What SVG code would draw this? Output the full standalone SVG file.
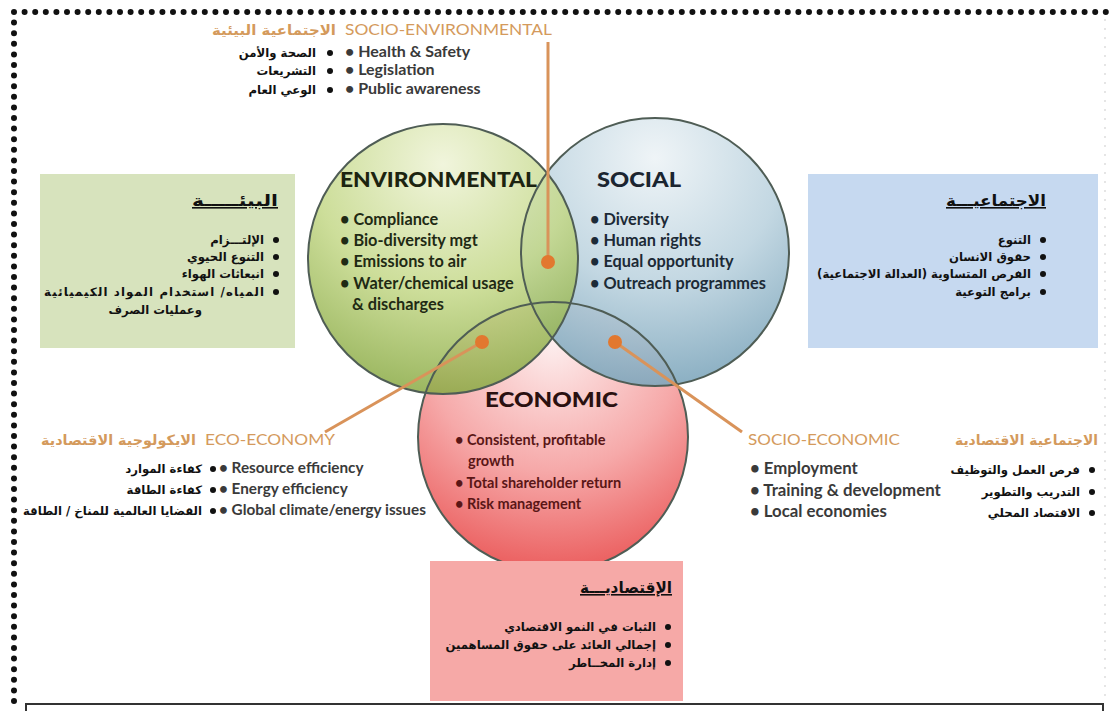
<svg xmlns="http://www.w3.org/2000/svg" width="1110" height="711" viewBox="0 0 1110 711">
<style>
.en{font-family:Lato,"Open Sans","Liberation Sans",sans-serif;font-weight:700;font-size:16.3px}
.enr{font-family:Lato,"Open Sans","Liberation Sans",sans-serif;font-weight:700;font-size:14.5px}
.ttl{font-family:Lato,"Open Sans","Liberation Sans",sans-serif;font-weight:900;font-size:21px}
.or{font-family:Lato,"Open Sans","Liberation Sans",sans-serif;font-weight:400;font-size:15px;fill:#d49a5c}
.ob{font-family:Lato,"Open Sans","Liberation Sans",sans-serif;font-weight:700;font-size:16px;fill:#3a3a3a}
.ar{font-family:"DejaVu Sans","Noto Sans",sans-serif;font-weight:700;font-size:11.7px;fill:#111;direction:rtl}
.art{font-family:"DejaVu Sans","Noto Sans",sans-serif;font-weight:700;font-size:16px;fill:#111;direction:rtl;text-decoration:underline}
.aro{font-family:"DejaVu Sans","Noto Sans",sans-serif;font-weight:700;font-size:14px;fill:#d49a5c;direction:rtl}
.ring{fill:none;stroke:#4f5d55;stroke-width:2}
.con{stroke:#d9935a;stroke-width:3;fill:none}
.dot{fill:#e2782f}
.bul{fill:#111}
</style>
<defs>
<radialGradient id="gEnv" cx="50%" cy="15%" r="95%">
<stop offset="0" stop-color="#eef3d6"/><stop offset="0.5" stop-color="#c4d888"/><stop offset="1" stop-color="#7a9e32"/>
</radialGradient>
<radialGradient id="gSoc" cx="50%" cy="15%" r="95%">
<stop offset="0" stop-color="#edf3f6"/><stop offset="0.5" stop-color="#bcd3df"/><stop offset="1" stop-color="#6e9bb3"/>
</radialGradient>
<radialGradient id="gEco" cx="50%" cy="15%" r="95%">
<stop offset="0" stop-color="#fdeeee"/><stop offset="0.5" stop-color="#f6a9a9"/><stop offset="1" stop-color="#e84a4a"/>
</radialGradient>
</defs>
<rect width="1110" height="711" fill="#fff"/>
<g id="border">
<path d="M14 12 H1108 M14 12 V711" stroke="#111" stroke-width="6" stroke-linecap="round" stroke-dasharray="0 10.6" fill="none"/>
<path d="M1105 20 V700" stroke="#ddd" stroke-width="2" stroke-linecap="round" stroke-dasharray="0 9" fill="none"/>
</g>
<g id="circles">
<circle cx="553" cy="437" r="135" fill="url(#gEco)"/>
<circle cx="655" cy="252" r="134" fill="url(#gSoc)" opacity="0.9"/>
<circle cx="443" cy="259" r="135" fill="url(#gEnv)" opacity="0.85"/>
<circle class="ring" cx="553" cy="437" r="135"/>
<circle class="ring" cx="655" cy="252" r="134"/>
<circle class="ring" cx="443" cy="259" r="135"/>
</g>
<g id="box-env">
<rect x="40" y="174" width="255" height="174" fill="#d7e3bd"/>
<text class="art" x="278" y="206" textLength="86" lengthAdjust="spacingAndGlyphs">البيئـــــة</text>
<circle class="bul" cx="276" cy="240" r="3"/><text class="ar" x="264" y="244">الإلتـــزام</text>
<circle class="bul" cx="276" cy="257" r="3"/><text class="ar" x="264" y="261">التنوع الحيوي</text>
<circle class="bul" cx="276" cy="274" r="3"/><text class="ar" x="264" y="278">انبعاثات الهواء</text>
<circle class="bul" cx="276" cy="292" r="3"/><text class="ar" x="264" y="296" textLength="220" lengthAdjust="spacing">المياه/ استخدام المواد الكيميائية</text>
<text class="ar" x="202" y="314">وعمليات الصرف</text>
</g>
<g id="box-soc">
<rect x="808" y="174" width="290" height="174" fill="#c6d9f0"/>
<text class="art" x="1046" y="206" textLength="100" lengthAdjust="spacingAndGlyphs">الاجتماعيـــة</text>
<circle class="bul" cx="1043" cy="240" r="3"/><text class="ar" x="1031" y="244">التنوع</text>
<circle class="bul" cx="1043" cy="257" r="3"/><text class="ar" x="1031" y="261">حقوق الانسان</text>
<circle class="bul" cx="1043" cy="274" r="3"/><text class="ar" x="1031" y="278">الفرص المتساوية (العدالة الاجتماعية)</text>
<circle class="bul" cx="1043" cy="292" r="3"/><text class="ar" x="1031" y="296">برامج التوعية</text>
</g>
<g id="box-eco">
<rect x="430" y="561" width="253" height="140" fill="#f6a9a7"/>
<text class="art" x="672" y="593" textLength="92" lengthAdjust="spacingAndGlyphs">الإقتصاديـــة</text>
<circle class="bul" cx="668" cy="627" r="3"/><text class="ar" x="656" y="631">الثبات في النمو الاقتصادي</text>
<circle class="bul" cx="668" cy="645" r="3"/><text class="ar" x="656" y="649">إجمالي العائد على حقوق المساهمين</text>
<circle class="bul" cx="668" cy="663" r="3"/><text class="ar" x="656" y="667">إدارة المخــاطر</text>
</g>
<g id="connectors">
<line class="con" x1="548" y1="42" x2="548" y2="262"/>
<line class="con" x1="325" y1="432" x2="482" y2="342"/>
<line class="con" x1="742" y1="432" x2="615" y2="342"/>
<circle class="dot" cx="548" cy="262" r="7"/>
<circle class="dot" cx="482" cy="342" r="7"/>
<circle class="dot" cx="615" cy="342" r="7"/>
</g>
<g id="env">
<text class="ttl" x="340" y="187" fill="#1c2410" textLength="197" lengthAdjust="spacingAndGlyphs">ENVIRONMENTAL</text>
<g class="en" fill="#1f2a14">
<text x="340" y="225">•  Compliance</text>
<text x="340" y="246">•  Bio-diversity mgt</text>
<text x="340" y="267">•  Emissions to air</text>
<text x="340" y="289">•  Water/chemical usage</text>
<text x="352" y="310">&amp; discharges</text>
</g>
</g>
<g id="soc">
<text class="ttl" x="597" y="187" fill="#1b2530" textLength="84" lengthAdjust="spacingAndGlyphs">SOCIAL</text>
<g class="en" fill="#1c2a36">
<text x="590" y="225">•  Diversity</text>
<text x="590" y="246">•  Human rights</text>
<text x="590" y="267">•  Equal opportunity</text>
<text x="590" y="289">•  Outreach programmes</text>
</g>
</g>
<g id="eco">
<text class="ttl" x="485" y="407" fill="#2a1010" textLength="133" lengthAdjust="spacingAndGlyphs">ECONOMIC</text>
<g class="enr" fill="#5a1616">
<text x="455" y="445">•  Consistent, profitable</text>
<text x="468" y="466">growth</text>
<text x="455" y="488">•  Total shareholder return</text>
<text x="455" y="509">•  Risk management</text>
</g>
</g>
<g id="socio-env">
<text class="or" x="345" y="35" textLength="207" lengthAdjust="spacingAndGlyphs">SOCIO-ENVIRONMENTAL</text>
<text class="aro" x="336" y="35" textLength="124" lengthAdjust="spacingAndGlyphs">الاجتماعية البيئية</text>
<g class="ob">
<text x="345" y="57">•  Health &amp; Safety</text>
<text x="345" y="75">•  Legislation</text>
<text x="345" y="94">•  Public awareness</text>
</g>
<circle class="bul" cx="330" cy="53" r="3"/><text class="ar" x="316" y="57">الصحة والأمن</text>
<circle class="bul" cx="330" cy="71" r="3"/><text class="ar" x="316" y="75">التشريعات</text>
<circle class="bul" cx="330" cy="90" r="3"/><text class="ar" x="316" y="94">الوعي العام</text>
</g>
<g id="eco-economy">
<text class="or" x="205" y="445" textLength="130" lengthAdjust="spacingAndGlyphs">ECO-ECONOMY</text>
<text class="aro" x="196" y="445" textLength="155" lengthAdjust="spacingAndGlyphs">الايكولوجية الاقتصادية</text>
<g class="ob" style="font-size:15.3px">
<text x="219" y="473">•  Resource efficiency</text>
<text x="219" y="494">•  Energy efficiency</text>
<text x="219" y="515">•  Global climate/energy issues</text>
</g>
<circle class="bul" cx="213" cy="469" r="3"/><text class="ar" x="202" y="473">كفاءة الموارد</text>
<circle class="bul" cx="213" cy="490" r="3"/><text class="ar" x="202" y="494">كفاءة الطاقة</text>
<circle class="bul" cx="213" cy="511" r="3"/><text class="ar" x="202" y="515">القضايا العالمية للمناخ / الطاقة</text>
</g>
<g id="socio-economic">
<text class="or" x="748" y="445" textLength="152" lengthAdjust="spacingAndGlyphs">SOCIO-ECONOMIC</text>
<text class="aro" x="1098" y="445" textLength="143" lengthAdjust="spacingAndGlyphs">الاجتماعية الاقتصادية</text>
<g class="ob" style="font-size:16.8px">
<text x="750" y="474">•  Employment</text>
<text x="750" y="496">•  Training &amp; development</text>
<text x="750" y="517">•  Local economies</text>
</g>
<circle class="bul" cx="1092" cy="470" r="3"/><text class="ar" x="1080" y="474">فرص العمل والتوظيف</text>
<circle class="bul" cx="1092" cy="492" r="3"/><text class="ar" x="1080" y="496">التدريب والتطوير</text>
<circle class="bul" cx="1092" cy="513" r="3"/><text class="ar" x="1080" y="517">الاقتصاد المحلي</text>
</g>
<g id="footer">
<rect x="26" y="704" width="1077" height="30" fill="#fff" stroke="#333" stroke-width="2"/>
</g>
</svg>
